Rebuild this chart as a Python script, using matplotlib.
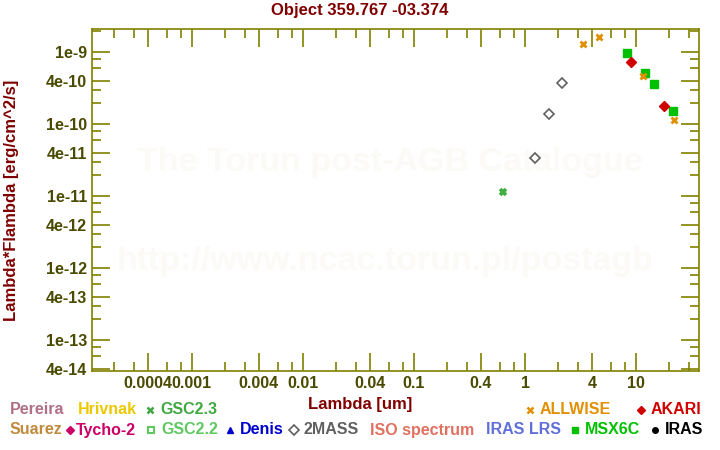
import numpy as np
import matplotlib
matplotlib.use("Agg")
import matplotlib.pyplot as plt
from matplotlib.ticker import FixedLocator, FuncFormatter, NullFormatter

plt.rcParams['font.family'] = ['Liberation Sans', 'DejaVu Sans']
plt.rcParams['font.weight'] = 'bold'

# photometry, wavelength in um, lambda*F_lambda in erg/cm^2/s
allwise_wl = [3.35, 4.6, 11.6, 22.0]
allwise_f = [1.29e-9, 1.61e-9, 4.7e-10, 1.15e-10]
akari_wl = [9.0, 18.0]
akari_f = [7.3e-10, 1.78e-10]
msx_wl = [8.28, 12.13, 14.65, 21.3]
msx_f = [9.7e-10, 5.1e-10, 3.6e-10, 1.51e-10]
tmass_wl = [1.235, 1.66, 2.16]
tmass_f = [3.37e-11, 1.38e-10, 3.7e-10]
gsc23_wl = [0.64]
gsc23_f = [1.14e-11]

title = "Object 359.767 -03.374"
xlabel = "Lambda [um]"
ylabel = "Lambda*Flambda [erg/cm^2/s]"

# legend rows: (name, colour, marker)
legend_row1 = [("Pereira", "#b07088", None), ("Hrivnak", "#ecc800", None),
               ("GSC2.3", "#40a840", "x"), ("ALLWISE", "#e09000", "x"),
               ("AKARI", "#d00000", "D")]
legend_row2 = [("Suarez", "#c08a3c", None), ("Tycho-2", "#cc0066", "D"),
               ("GSC2.2", "#60c860", "s"), ("Denis", "#0000cc", "^"),
               ("2MASS", "#606060", "D"), ("ISO spectrum", "#e07060", None),
               ("IRAS LRS", "#6070d8", None), ("MSX6C", "#00c000", "s"),
               ("IRAS", "#000000", "o")]
row1_x = [10, 78, 150, 530, 641]
row2_x = [10, 70, 151, 230, 294, 370, 486, 575, 655]

W, H = 720, 450
fig = plt.figure(figsize=(W / 100, H / 100), dpi=100)
ax = fig.add_axes([92 / W, 1 - 371 / H, (699 - 92) / W, (371 - 29) / H])

olive = "#808000"
ticklab = "#4a4a00"
dark_red = "#800000"

# watermark
wm = "#fbfaf6"
ax.text(0.491, 0.611, "The Torun post-AGB Catalogue", transform=ax.transAxes,
        ha='center', va='center', fontsize=24.5, color=wm, zorder=0)
ax.text(0.482, 0.319, "http://www.ncac.torun.pl/postagb", transform=ax.transAxes,
        ha='center', va='center', fontsize=24.5, color=wm, zorder=0)

ax.plot(gsc23_wl, gsc23_f, 'x', color="#40b040", ms=5, mew=2.6, ls='none')
ax.plot(tmass_wl, tmass_f, 'D', mfc='white', mec="#606060", ms=4.8, mew=1.2, ls='none')
ax.plot(msx_wl, msx_f, 's', color="#00c000", ms=5.4, ls='none')
ax.plot(akari_wl, akari_f, 'D', color="#d00000", ms=5, ls='none')
ax.plot(allwise_wl, allwise_f, 'x', color="#e09000", ms=5, mew=2, ls='none')

ax.set_xscale('log')
ax.set_yscale('log')
ax.set_xlim(1.26e-4, 36.9)
ax.set_ylim(3.75e-14, 2.11e-9)

xmaj = [m * 10.0 ** e for e in range(-4, 2) for m in (1, 4)]
xmin = [m * 10.0 ** e for e in range(-4, 2) for m in (2, 3, 6, 8)]
ymaj = [m * 10.0 ** e for e in range(-14, -8) for m in (1, 4)]
ymin = [m * 10.0 ** e for e in range(-14, -8) for m in (2, 3, 6, 8)]
ax.xaxis.set_major_locator(FixedLocator(xmaj))
ax.xaxis.set_minor_locator(FixedLocator(xmin))
ax.yaxis.set_major_locator(FixedLocator(ymaj))
ax.yaxis.set_minor_locator(FixedLocator(ymin))
ax.xaxis.set_minor_formatter(NullFormatter())
ax.yaxis.set_minor_formatter(NullFormatter())


def xfmt(v, pos):
    return "%g" % v


def yfmt(v, pos):
    e = int(np.floor(np.log10(v) + 1e-9))
    m = int(round(v / 10.0 ** e))
    return "%de%d" % (m, e)


ax.xaxis.set_major_formatter(FuncFormatter(xfmt))
ax.yaxis.set_major_formatter(FuncFormatter(yfmt))

for s in ax.spines.values():
    s.set_color(olive)
    s.set_linewidth(1.2)
ax.tick_params(which='both', direction='in', top=True, right=True,
               color=olive, width=1.2, labelcolor=ticklab, labelsize=11.5)
ax.tick_params(which='major', length=13, pad=3.5)
ax.tick_params(which='minor', length=6.5)

fig.text(0.5, 1 - 11 / H, title, ha='center', va='center', fontsize=12, color=dark_red)
fig.text(360 / W, 1 - 405 / H, xlabel, ha='center', va='center', fontsize=12, color=dark_red)
fig.text(12 / W, 1 - 200 / H, ylabel, ha='center', va='center', rotation=90,
         fontsize=12, color=dark_red)

# legend
for row, xs, yc in ((legend_row1, row1_x, 410), (legend_row2, row2_x, 430)):
    for (name, col, mk), x in zip(row, xs):
        tx = x
        if mk is not None:
            kw = dict(color=col, ms=5, ls='none', transform=fig.transFigure, clip_on=False)
            if mk == 'x':
                kw.update(mew=1.8)
            elif mk in ('s',) and name == "GSC2.2":
                kw.update(mfc='white', mec=col, mew=1.5)
            elif name == "2MASS":
                kw.update(mfc='white', mec=col, mew=1.2)
            elif mk == 'D':
                kw.update(ms=4.5)
            elif mk == 'o':
                kw.update(ms=4)
            ax.plot([x / W], [1 - yc / H], mk, **kw)
            tx = x + 6 if name == "Tycho-2" else x + 10
        fig.text(tx / W, 1 - yc / H, name, ha='left', va='center', fontsize=11.5, color=col)

fig.savefig("out.png", dpi=100)
